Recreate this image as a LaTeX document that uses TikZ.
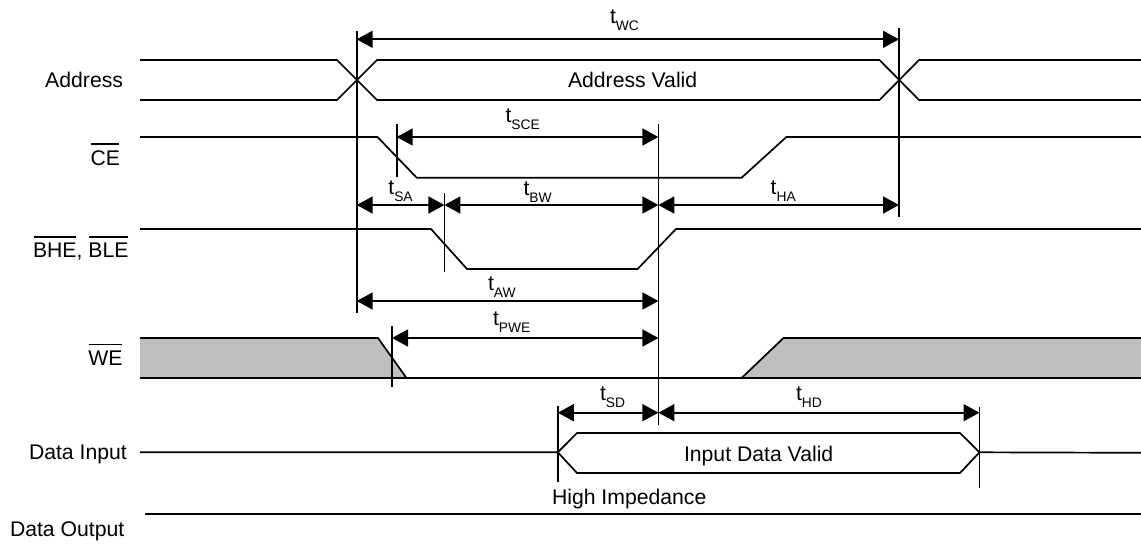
\documentclass[tikz,border=0pt]{standalone}
\usepackage{fontspec}
\setmainfont{Liberation Sans}
\usetikzlibrary{arrows.meta}
\newcommand{\tsub}[1]{t\raisebox{-7pt}{\fontsize{13.8pt}{14pt}\selectfont #1}}
\newcommand{\ovl}[1]{\setbox0\hbox{#1}\rlap{\raise\dimexpr\ht0+5.5pt\relax\hbox to\wd0{\hfil\rule{\dimexpr\wd0-1pt\relax}{1.4pt}\hfil}}\box0}
\tikzset{
  x=1pt,y=-1pt,
  wave/.style={line width=1.7pt,line join=miter},
  guide/.style={line width=1.7pt},
  span/.style={line width=1.7pt,{Triangle[length=16pt,width=17pt]}-{Triangle[length=16pt,width=17pt]}},
  lbl/.style={inner sep=0pt,outer sep=0pt,anchor=base west,font=\fontsize{21.2pt}{24pt}\selectfont},
  lblr/.style={lbl,anchor=base east},
  shade/.style={fill=black!25,draw=none},
}
\begin{document}
\begin{tikzpicture}
\useasboundingbox (0,0) rectangle (1141,544);
\fill[white] (0,0) rectangle (1141,544);
% grey regions
\fill[shade] (140,338) -- (378,338) -- (406.5,378) -- (140,378) -- cycle;
\fill[shade] (741.6,378) -- (783.5,338) -- (1141,338) -- (1141,378) -- cycle;
% named time markers
\coordinate (a1) at (356.7,31);  \coordinate (a2) at (356.7,313);
\coordinate (b1) at (899,28);    \coordinate (b2) at (899,217);
\coordinate (c1) at (396.7,124); \coordinate (c2) at (396.7,177);
\coordinate (d1) at (658.4,124); \coordinate (d2) at (658.4,425);
\coordinate (e1) at (444.4,193); \coordinate (e2) at (444.4,272);
\coordinate (f1) at (392,326);   \coordinate (f2) at (392,387);
\coordinate (g1) at (557.8,406); \coordinate (g2) at (557.8,482);
\coordinate (h1) at (979.5,407); \coordinate (h2) at (979.5,488);
\foreach \p/\q in {a1/a2,b1/b2,c1/c2,d1/d2,e1/e2,f1/f2,g1/g2,h1/h2}
  \draw[guide] (\p) -- (\q);
% waveforms
\draw[wave] (140,60) -- (337,60) -- (377,100) -- (879.5,100) -- (919,60) -- (1141,60);
\draw[wave] (140,100) -- (337,100) -- (377,60) -- (879.5,60) -- (919,100) -- (1141,100);
\draw[wave] (140,137) -- (377.5,137) -- (416.7,177.7) -- (741.6,177.7) -- (786.4,137) -- (1141,137);
\draw[wave] (140,229) -- (431,229) -- (467,269) -- (637.6,269) -- (676,229) -- (1141,229);
\draw[wave] (140,338) -- (378,338) -- (406.5,378);
\draw[wave] (140,378) -- (1141,378);
\draw[wave] (741.6,378) -- (783.5,338) -- (1141,338);
\draw[wave] (140,452.3) -- (557.8,452.3) -- (577,433) -- (960,433) -- (979.5,452.3) -- (960,473) -- (577,473) -- (557.8,452.3);
\draw[wave] (979.5,452.3) -- (1141,452.8);
\draw[wave] (145,513.7) -- (1141,513.7);
% spans
\draw[span] (356.7,39.3) -- (899,39.3);
\draw[span] (396.7,137) -- (658.4,137);
\draw[span] (356.7,205) -- (444.4,205);
\draw[span] (444.4,205) -- (658.4,205);
\draw[span] (658.4,205) -- (899,205);
\draw[span] (356.7,301) -- (658.4,301);
\draw[span] (392,338) -- (658.4,338);
\draw[span] (557.8,412.7) -- (658.4,412.7);
\draw[span] (658.4,412.7) -- (979.5,412.7);
% timing labels
\node[lbl] (twc) at (610,23) {\tsub{WC}};
\node[lbl] (tsce) at (505.5,122.7) {\tsub{SCE}};
\node[lbl] (tsa) at (388.4,194) {\tsub{SA}};
\node[lbl] (tbw) at (523.6,195.7) {\tsub{BW}};
\node[lbl] (tha) at (770.7,194) {\tsub{HA}};
\node[lbl] (taw) at (488,290) {\tsub{AW}};
\node[lbl] (tpwe) at (493,325.7) {\tsub{PWE}};
\node[lbl] (tsd) at (600,400.7) {\tsub{SD}};
\node[lbl] (thd) at (796,400.7) {\tsub{HD}};
% signal labels
\node[lblr] (addr) at (123,87.7) {Address};
\node[lbl] (addrv) at (568,87.7) {Address Valid};
\node[lbl] (ce) at (90.5,165) {\ovl{CE}};
\node[lbl] (bhe) at (33,257.7) {\ovl{BHE}, \ovl{BLE}};
\node[lbl] (we) at (88.4,365) {\ovl{WE}};
\node[lbl] (din) at (29,459) {Data Input};
\node[lbl] (dout) at (10,536.7) {Data Output};
\node[lbl] (dval) at (684,461) {Input Data Valid};
\node[lbl] (hi) at (552,504) {High Impedance};
\end{tikzpicture}
\end{document}
